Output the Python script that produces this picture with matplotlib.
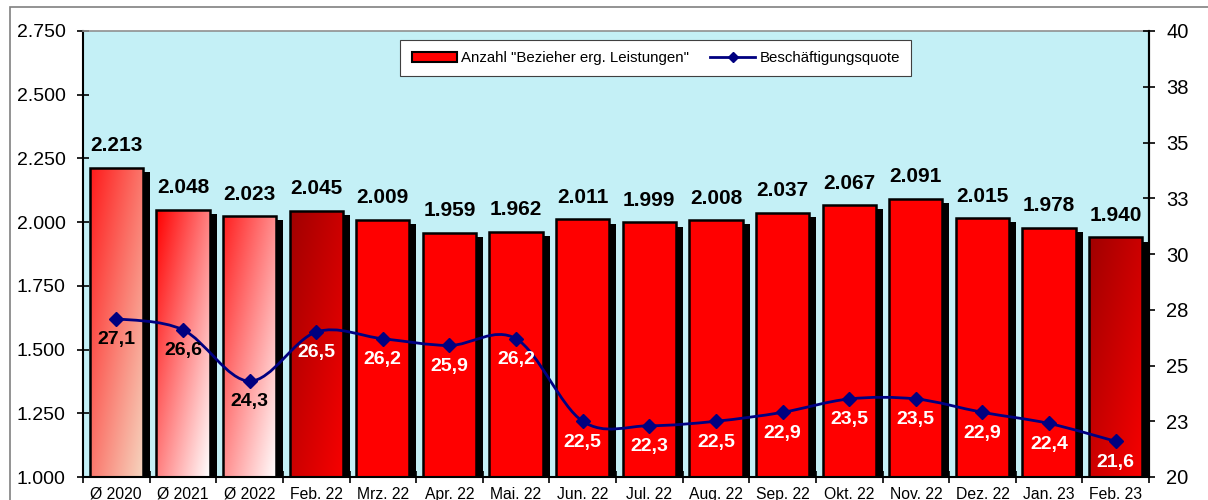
import numpy as np
import matplotlib
matplotlib.use("Agg")
import matplotlib.pyplot as plt
import matplotlib.patheffects as pe
from matplotlib.colors import to_rgb
from matplotlib.lines import Line2D
from matplotlib.patches import Patch, Rectangle
from matplotlib.path import Path
from matplotlib.patches import PathPatch

plt.rcParams['font.family'] = ['Liberation Sans', 'DejaVu Sans']

# daten
kategorien = ['Ø 2020', 'Ø 2021', 'Ø 2022', 'Feb. 22', 'Mrz. 22', 'Apr. 22', 'Mai. 22',
              'Jun. 22', 'Jul. 22', 'Aug. 22', 'Sep. 22', 'Okt. 22', 'Nov. 22',
              'Dez. 22', 'Jan. 23', 'Feb. 23']
bezieher = [2213, 2048, 2023, 2045, 2009, 1959, 1962, 2011, 1999, 2008, 2037,
            2067, 2091, 2015, 1978, 1940]
quote = [27.1, 26.6, 24.3, 26.5, 26.2, 25.9, 26.2, 22.5, 22.3, 22.5, 22.9,
         23.5, 23.5, 22.9, 22.4, 21.6]
links_ticks = [1000, 1250, 1500, 1750, 2000, 2250, 2500, 2750]
rechts_ticks = [20, 22.5, 25, 27.5, 30, 32.5, 35, 37.5, 40]
rechts_labels = ['20', '23', '25', '28', '30', '33', '35', '38', '40']

# farbverlaeufe (oben links -> unten rechts)
verlauf = {
    'Ø 2020': ('#ff1a1a', '#f6d6c0'),
    'Ø 2021': ('#ff0000', '#ffffff'),
    'Ø 2022': ('#ff2020', '#ffffff'),
    'Feb. 22': ('#a00000', '#f80000'),
    'Feb. 23': ('#a00000', '#f80000'),
}
schwarz_labels = {'Ø 2020', 'Ø 2021', 'Ø 2022'}

W, H = 1208, 500
fig = plt.figure(figsize=(W / 100, H / 100), dpi=100)
ax = fig.add_axes([83 / W, 1 - 477 / H, (1149 - 83) / W, (477 - 31) / H])
ax.set_facecolor('#c4f0f6')

# aeusserer rahmen
fig.patches.append(Rectangle((10 / W, -0.1), 1.2, 1 - 7 / H + 0.1,
                             transform=fig.transFigure, fill=False,
                             edgecolor='#808080', lw=1.2, zorder=0))

x = np.arange(len(kategorien))
breite = 0.8
ymin, ymax = 1000, 2750

schatten = [pe.SimplePatchShadow(offset=(5, -3), shadow_rgbFace='black', alpha=1.0),
            pe.Normal()]
bars = ax.bar(x, bezieher, width=breite, color='#ff0000', edgecolor='none',
              zorder=2)
for b in bars:
    b.set_path_effects(schatten)

# verlaeufe
n = 80
u = np.linspace(0, 1, n)
U, V = np.meshgrid(u, u)
t = ((U + V) / 2)[..., None]
for i, k in enumerate(kategorien):
    if k in verlauf:
        c0 = np.array(to_rgb(verlauf[k][0]))
        c1 = np.array(to_rgb(verlauf[k][1]))
        img = c0 + (c1 - c0) * t
        b = bars[i]
        im = ax.imshow(img, extent=(x[i] - breite / 2, x[i] + breite / 2, ymin, bezieher[i]),
                       origin='upper', aspect='auto', interpolation='bilinear', zorder=2.5)
        im.set_clip_path(b)

ax.bar(x, bezieher, width=breite, fill=False, edgecolor='black', lw=1.8, zorder=3)

for xi, v in zip(x, bezieher):
    ax.annotate(f'{v:,}'.replace(',', '.'), (xi, v), xytext=(0, 9),
                textcoords='offset points', ha='center', va='bottom',
                fontsize=15, fontweight='bold', zorder=5)

ax.set_xlim(-0.5, len(kategorien) - 0.5)
ax.set_ylim(ymin, ymax)
ax.set_yticks(links_ticks)
ax.set_yticklabels([f'{v:,}'.replace(',', '.') for v in links_ticks], fontsize=14)
ax.tick_params(axis='y', direction='inout', length=9, width=1.2, pad=8)
ax.set_xticks(np.arange(-0.5, len(kategorien), 1.0))
ax.set_xticklabels([])
ax.set_xticks(x, minor=True)
ax.set_xticklabels(kategorien, minor=True, fontsize=11.3)
ax.tick_params(axis='x', which='major', direction='inout', length=8, width=1.2)
ax.tick_params(axis='x', which='minor', length=0, pad=7)
for s in ['left', 'bottom', 'right']:
    ax.spines[s].set_linewidth(1.5)
ax.spines['top'].set_color('#909090')
ax.spines['top'].set_linewidth(1.2)

# linie
ax2 = ax.twinx()
ax2.set_ylim(20, 40)
ax2.set_yticks(rechts_ticks)
ax2.set_yticklabels(rechts_labels, fontsize=14.5)
ax2.tick_params(axis='y', direction='inout', length=9, width=1.2, pad=8)
for s in ['left', 'top', 'bottom']:
    ax2.spines[s].set_visible(False)
ax2.spines['right'].set_linewidth(1.5)

# geglaettete linie (catmull-rom als bezier-pfad)
pts = np.column_stack([x, quote]).astype(float)
verts = [pts[0]]
codes = [Path.MOVETO]
for i in range(len(pts) - 1):
    p0 = pts[i - 1] if i > 0 else pts[i]
    p1, p2 = pts[i], pts[i + 1]
    p3 = pts[i + 2] if i + 2 < len(pts) else pts[i + 1]
    verts += [p1 + (p2 - p0) / 6, p2 - (p3 - p1) / 6, p2]
    codes += [Path.CURVE4] * 3
ax2.add_patch(PathPatch(Path(verts, codes), fill=False, edgecolor='#000080',
                        lw=2.0, zorder=4))
ax2.plot(x, quote, linestyle='none', marker='D', markersize=7.5,
         color='#000080', zorder=5)

for xi, q, k in zip(x, quote, kategorien):
    farbe = 'black' if k in schwarz_labels else 'white'
    ax2.annotate(f'{q:.1f}'.replace('.', ','), (xi, q), xytext=(0, -15),
                 textcoords='offset points', ha='center', va='center',
                 fontsize=14, fontweight='bold', color=farbe, zorder=6)

handles = [Patch(facecolor='#ff0000', edgecolor='black', lw=1.5),
           Line2D([], [], color='#000080', lw=2, marker='D', markersize=5)]
leg = ax2.legend(handles, ['Anzahl "Bezieher erg. Leistungen"', 'Beschäftigungsquote'],
                 loc='upper center', bbox_to_anchor=(0.5375, 0.98), ncol=2,
                 fontsize=10.8, frameon=True, fancybox=False, framealpha=1,
                 edgecolor='#404040', handlelength=3, handleheight=0.6,
                 handletextpad=0.3, columnspacing=1.4, borderpad=0.75,
                 borderaxespad=0)
leg.get_frame().set_linewidth(0.8)

fig.savefig('out.png', dpi=100)
